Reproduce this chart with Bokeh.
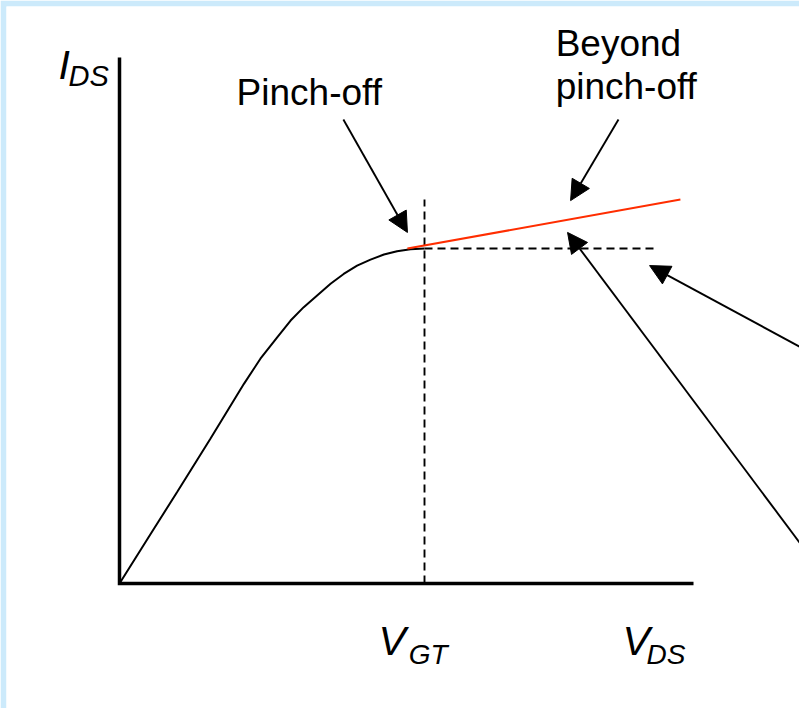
from bokeh.plotting import figure
from bokeh.models import Range1d, Arrow, NormalHead
from bokeh.core.properties import value
from bokeh.embed import file_html
from bokeh.resources import INLINE

# ---- data (V_DS in units of V_GT, I_DS in units of saturation current) ----
curve_x = [0.0, 0.102, 0.189, 0.298, 0.408, 0.462, 0.517, 0.561, 0.604, 0.648,
           0.692, 0.735, 0.779, 0.823, 0.867, 0.910, 0.954, 1.0]
curve_y = [0.0, 0.148, 0.273, 0.432, 0.596, 0.671, 0.735, 0.785, 0.825, 0.860,
           0.895, 0.924, 0.949, 0.967, 0.982, 0.992, 0.998, 1.0]
beyond_x = [0.944, 1.839]
beyond_y = [1.0, 1.146]
sat_x = [1.0, 1.764]
sat_y = [1.0, 1.0]
vgt_x = [1.0, 1.0]
vgt_y = [0.0, 1.146]
axis_x = [0.0, 0.0, 1.882]
axis_y = [1.570, 0.0, 0.0]

# arrows: (tail_x, tail_y, tip_x, tip_y)
arrow_tail_x = [0.734, 1.636, 2.23, 2.23]
arrow_tail_y = [1.385, 1.385, 0.707, 0.122]
arrow_tip_x = [0.944, 1.479, 1.738, 1.469]
arrow_tip_y = [1.048, 1.143, 0.949, 1.048]

label_text = ["Pinch-off", "Beyond", "pinch-off"]
label_x = [0.384, 1.430, 1.430]
label_y = [1.467, 1.611, 1.484]

main_sym = ["I", "V", "V"]
main_x = [-0.2, 0.849, 1.649]
main_y = [1.549, -0.173, -0.173]
sub_ids_sym = ["DS"]
sub_ids_x = [-0.167]
sub_ids_y = [1.515]
sub_v_sym = ["GT", "DS"]
sub_v_x = [0.948, 1.728]
sub_v_y = [-0.211, -0.211]

FONT = value("Liberation Sans")

p = figure(width=799, height=708,
           x_range=Range1d(-0.3705, 2.2295), y_range=Range1d(-0.3731, 1.7224),
           output_backend="svg", toolbar_location=None, title=None,
           x_axis_type=None, y_axis_type=None,
           min_border_left=6, min_border_top=6, min_border_right=0, min_border_bottom=0,
           border_fill_color="#CCEAFB", background_fill_color="white",
           outline_line_color=None, margin=(0, 0, 0, 0))
p.xgrid.visible = False
p.ygrid.visible = False

# axes
p.line(axis_x, axis_y, line_color="black", line_width=3.5, line_join="miter")
# dashed guides
p.line(vgt_x, vgt_y, line_color="black", line_width=1.9, line_dash="8 5")
p.line(sat_x, sat_y, line_color="black", line_width=1.9, line_dash="8 5")
# characteristic
p.line(curve_x, curve_y, line_color="black", line_width=2)
p.line(beyond_x, beyond_y, line_color="#FF2D00", line_width=2)

for tx, ty, hx, hy in zip(arrow_tail_x, arrow_tail_y, arrow_tip_x, arrow_tip_y):
    p.add_layout(Arrow(end=NormalHead(size=20, fill_color="black", line_color="black"),
                       x_start=tx, y_start=ty, x_end=hx, y_end=hy,
                       line_color="black", line_width=1.9))

p.text(x=label_x, y=label_y, text=label_text, text_font=FONT, text_font_size="37px",
       text_baseline="alphabetic", text_align="left", text_color="black")
p.text(x=main_x, y=main_y, text=main_sym, text_font=FONT, text_font_size="41px",
       text_font_style="italic", text_baseline="alphabetic", text_align="left",
       text_color="black")
p.text(x=sub_ids_x, y=sub_ids_y, text=sub_ids_sym, text_font=FONT, text_font_size="29px",
       text_font_style="italic", text_baseline="alphabetic", text_align="left",
       text_color="black")
p.text(x=sub_v_x, y=sub_v_y, text=sub_v_sym, text_font=FONT, text_font_size="28px",
       text_font_style="italic", text_baseline="alphabetic", text_align="left",
       text_color="black")

open("out.html", "w").write(file_html(p, INLINE))
